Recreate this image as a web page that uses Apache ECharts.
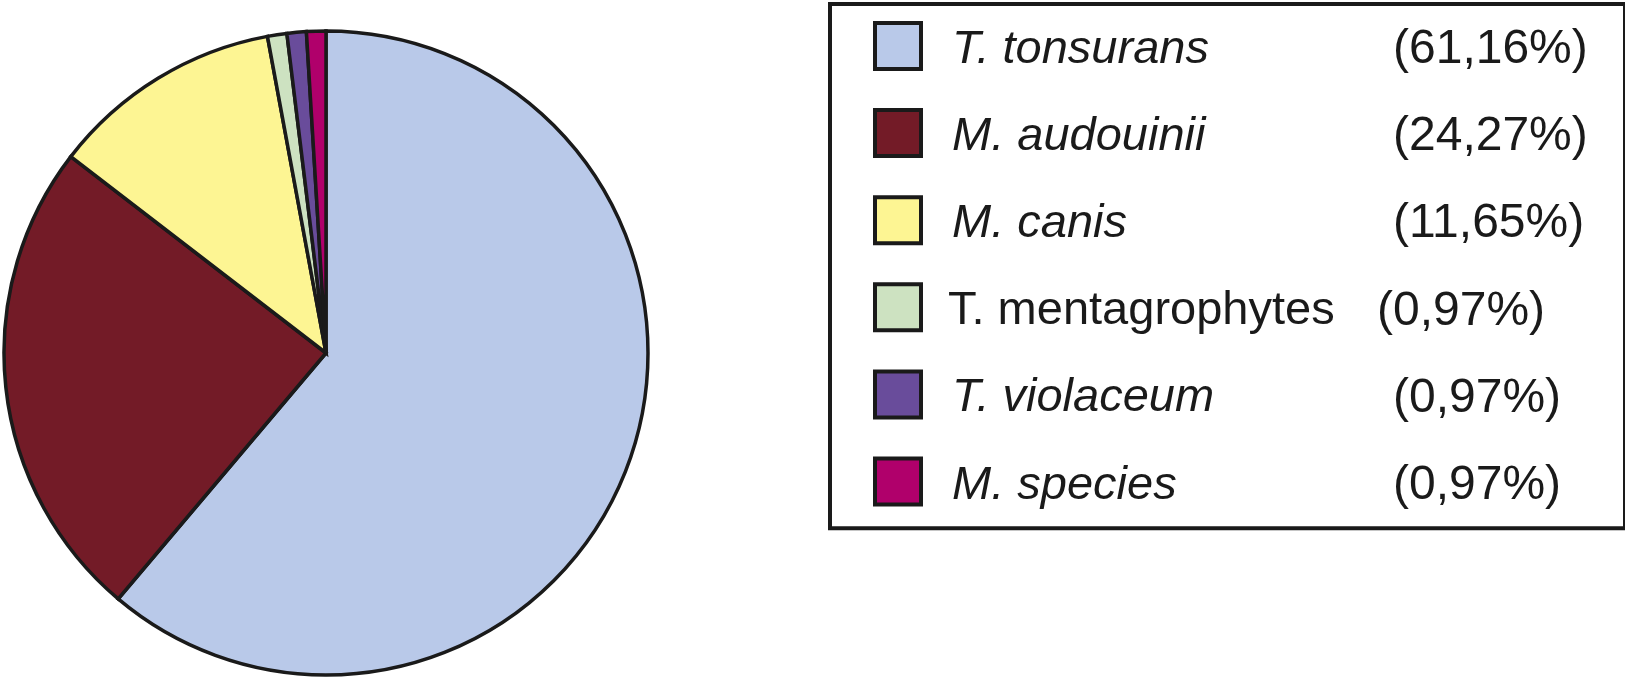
<!DOCTYPE html>
<html>
<head>
<meta charset="utf-8">
<title>Species distribution</title>
<script src="https://cdn.jsdelivr.net/npm/echarts/dist/echarts.min.js"></script>
<style>
  html, body { margin: 0; padding: 0; background: #fff; }
  #chart { width: 1625px; height: 679px; }
</style>
</head>
<body>
<div id="chart"></div>
<script>
const species = ['T. tonsurans', 'M. audouinii', 'M. canis', 'T. mentagrophytes', 'T. violaceum', 'M. species']
const percents = [61.16, 24.27, 11.65, 0.97, 0.97, 0.97]
const colors = ['#b9c9e9', '#731b27', '#fdf593', '#cde2c1', '#694c9b', '#b0006b']
// names written upright in the legend (the rest are italic)
const uprightNames = ['T. mentagrophytes']

const chart = echarts.init(document.getElementById('chart'))

const pctLabel = v => '(' + v.toFixed(2).replace('.', ',') + '%)'

// text sits a little lower than the swatch in the original
const textPad = [8, 0, 0, 0]

chart.setOption({
  animation: false,
  textStyle: {
    fontFamily: 'Liberation Sans, Arial, sans-serif'
  },
  legend: {
    orient: 'vertical',
    left: 830,
    top: 4,
    padding: [14, 32, 18.8, 43],
    itemWidth: 46,
    itemHeight: 46,
    itemGap: 31.1,
    selectedMode: false,
    icon: 'rect',
    backgroundColor: '#fff',
    borderColor: '#1a1a1a',
    borderWidth: 4,
    itemStyle: {
      borderColor: '#1a1a1a',
      borderWidth: 4
    },
    data: species,
    formatter(name) {
      const v = percents[species.indexOf(name)]
      if (uprightNames.indexOf(name) >= 0) {
        return '{s2| }{m|' + name + '}{p|' + pctLabel(v) + '}'
      }
      return '{s| }{n|' + name + '}{p|' + pctLabel(v) + '}'
    },
    textStyle: {
      color: '#1a1a1a',
      fontSize: 47,
      lineHeight: 46,
      rich: {
        s: { width: 26, fontSize: 47, lineHeight: 46, padding: textPad },
        s2: { width: 22, fontSize: 47, lineHeight: 46, padding: textPad },
        n: { width: 441, fontSize: 47, lineHeight: 46, padding: textPad, fontStyle: 'italic', color: '#1a1a1a' },
        m: { width: 429, fontSize: 47, lineHeight: 46, padding: textPad, fontStyle: 'normal', color: '#1a1a1a' },
        p: { width: 200, fontSize: 48, lineHeight: 46, padding: textPad, fontStyle: 'normal', color: '#1a1a1a' }
      }
    }
  },
  series: [{
    type: 'pie',
    center: [326, 353],
    radius: 322,
    startAngle: 90,
    clockwise: true,
    silent: true,
    label: { show: false },
    labelLine: { show: false },
    emphasis: { disabled: true },
    itemStyle: {
      borderColor: '#1a1a1a',
      borderWidth: 3.5,
      borderJoin: 'miter'
    },
    data: species.map((name, i) => ({
      name: name,
      value: percents[i],
      itemStyle: { color: colors[i] }
    }))
  }]
})
</script>
</body>
</html>
